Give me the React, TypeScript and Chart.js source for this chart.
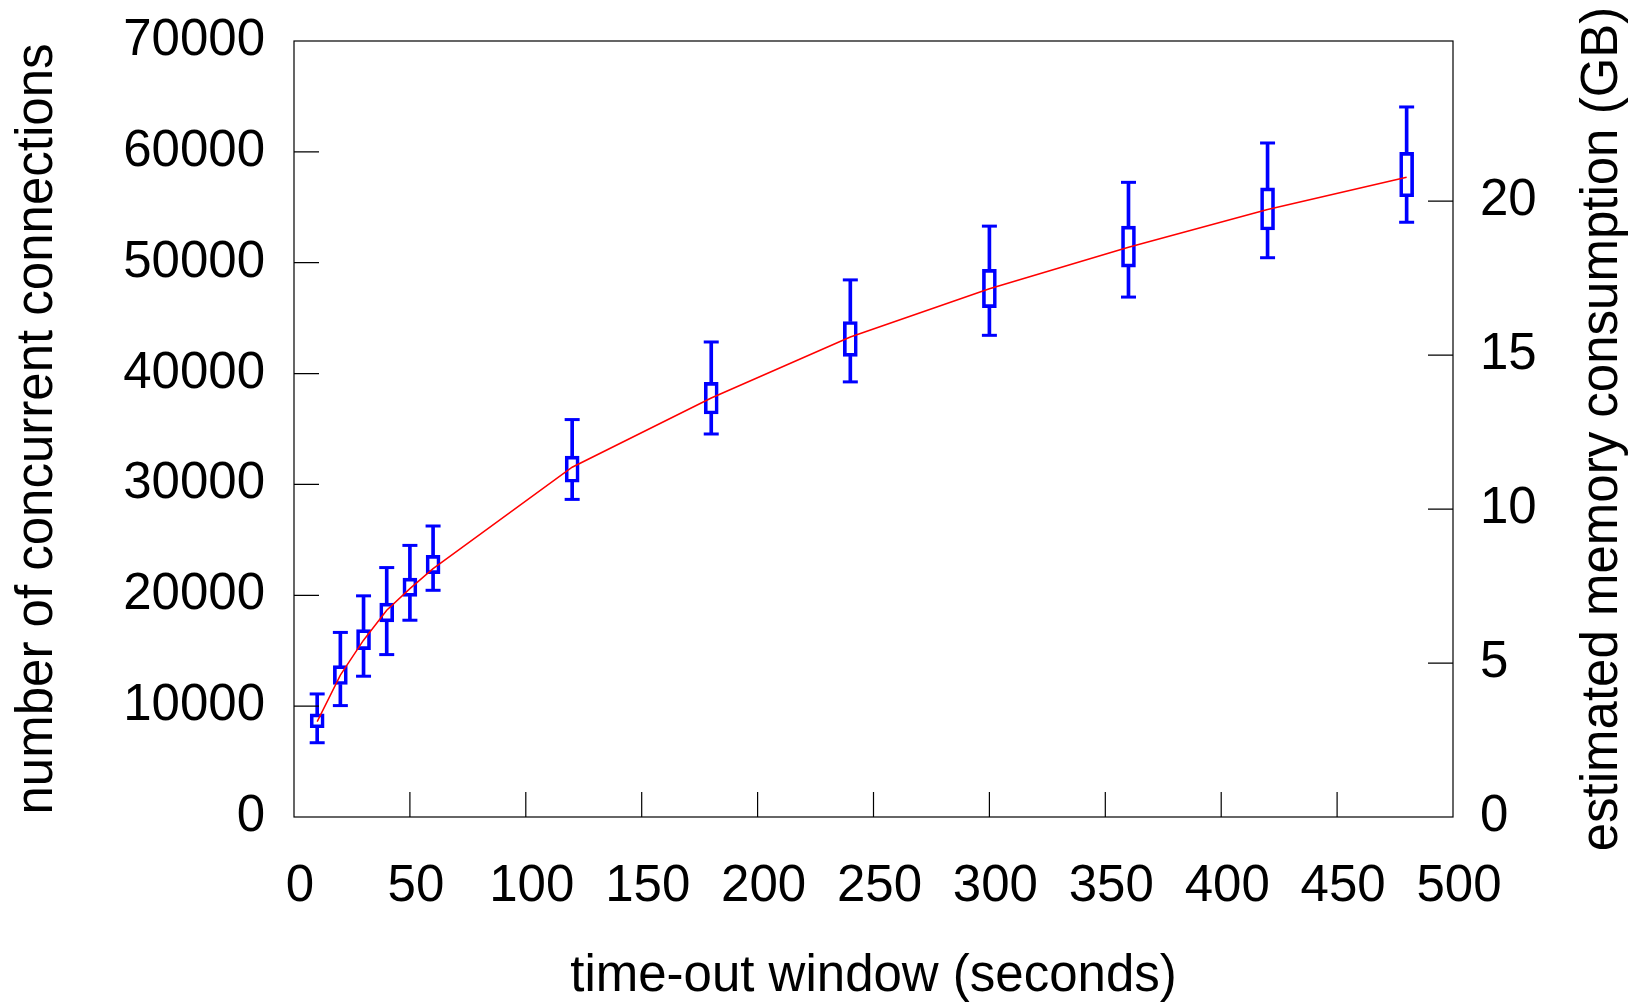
import React, { useEffect, useRef } from 'react';
import { Chart, registerables } from 'chart.js';

Chart.register(...registerables);

// time-out window (seconds)
const timeouts = [10, 20, 30, 40, 50, 60, 120, 180, 240, 300, 360, 420, 480];
// box-plot statistics (number of concurrent connections)
const whiskerHigh = [11100, 16650, 19950, 22500, 24500, 26250, 35850, 42850, 48450, 53300, 57250, 60800, 64050];
const boxHigh = [9300, 13650, 16900, 19300, 21550, 23600, 32550, 39200, 44700, 49400, 53300, 56750, 59950];
const boxLow = [8050, 11950, 15100, 17600, 19900, 21950, 30200, 36350, 41550, 45950, 49600, 52950, 55950];
const whiskerLow = [6700, 10050, 12700, 14650, 17750, 20450, 28650, 34550, 39250, 43450, 46900, 50450, 53650];
// fitted model (red line)
const fitted = [8600, 12800, 15950, 18650, 20600, 22400, 31550, 37800, 43300, 47650, 51400, 54800, 57700];

const xTicks = [0, 50, 100, 150, 200, 250, 300, 350, 400, 450, 500];
const yTicks = [0, 10000, 20000, 30000, 40000, 50000, 60000, 70000];
const y2Ticks = [0, 5, 10, 15, 20];
const y2Max = 25.2;

const xTitle = 'time-out window (seconds)';
const yTitle = 'number of concurrent connections';
const y2Title = 'estimated memory consumption (GB)';

const FONT = '"Liberation Sans", Arial, Helvetica, sans-serif';
const BLUE = '#0000ff';
const RED = '#ff0000';

export default function App() {
  const ref = useRef<HTMLCanvasElement>(null);

  useEffect(() => {
    const canvas = ref.current;
    if (!canvas) return;

    const framePlugin = {
      id: 'framePlugin',
      afterDraw(chart: any) {
        const { ctx, chartArea, scales } = chart;
        const { left, right, top, bottom } = chartArea;
        const TL = 25;
        ctx.save();
        ctx.strokeStyle = '#000';
        ctx.lineWidth = 1.2;
        ctx.strokeRect(left, top, right - left, bottom - top);
        ctx.beginPath();
        for (const t of scales.x.ticks) {
          if (t.value <= 0 || t.value >= 500) continue;
          const px = scales.x.getPixelForValue(t.value);
          ctx.moveTo(px, bottom);
          ctx.lineTo(px, bottom - TL);
        }
        for (const t of scales.y.ticks) {
          if (t.value <= 0 || t.value >= 70000) continue;
          const py = scales.y.getPixelForValue(t.value);
          ctx.moveTo(left, py);
          ctx.lineTo(left + TL, py);
        }
        for (const t of scales.y2.ticks) {
          if (t.value <= 0) continue;
          const py = scales.y2.getPixelForValue(t.value);
          ctx.moveTo(right, py);
          ctx.lineTo(right - TL, py);
        }
        ctx.stroke();

        ctx.fillStyle = '#000';
        ctx.font = `51px ${FONT}`;
        ctx.textAlign = 'center';
        ctx.textBaseline = 'alphabetic';
        const cy = (top + bottom) / 2;
        const cx = (left + right) / 2;
        ctx.fillText(xTitle, cx, 991);
        ctx.save();
        ctx.translate(52, cy);
        ctx.rotate(-Math.PI / 2);
        ctx.fillText(yTitle, 0, 0);
        ctx.restore();
        ctx.save();
        ctx.translate(1617, cy);
        ctx.rotate(-Math.PI / 2);
        ctx.fillText(y2Title, 0, 0);
        ctx.restore();
        ctx.restore();
      },
    };

    const tickFont = { size: 51, family: FONT, lineHeight: 1 };
    const noGrid = { display: false, drawTicks: false, tickLength: 0, offset: false };

    const chart = new Chart(canvas, {
      type: 'bar',
      data: {
        datasets: [
          {
            type: 'line',
            label: 'fit',
            data: timeouts.map((x, i) => ({ x, y: fitted[i] })),
            borderColor: RED,
            borderWidth: 1.5,
            pointRadius: 0,
            tension: 0,
            fill: false,
            order: 0,
            xAxisID: 'x',
            yAxisID: 'y',
          } as any,
          {
            type: 'scatter',
            label: 'caps',
            data: [
              ...timeouts.map((x, i) => ({ x, y: whiskerHigh[i] })),
              ...timeouts.map((x, i) => ({ x, y: whiskerLow[i] })),
            ],
            pointStyle: 'line',
            pointRadius: 7.5,
            pointBorderWidth: 3,
            pointBorderColor: BLUE,
            pointBackgroundColor: BLUE,
            order: 1,
            xAxisID: 'x',
            yAxisID: 'y',
          } as any,
          {
            type: 'bar',
            label: 'box',
            data: timeouts.map((x, i) => ({ x, y: [boxLow[i], boxHigh[i]] })),
            barThickness: 14,
            borderWidth: 3,
            borderColor: BLUE,
            backgroundColor: 'rgba(255,255,255,0)',
            borderSkipped: false,
            grouped: false,
            order: 2,
            xAxisID: 'x',
            yAxisID: 'y',
          } as any,
          {
            type: 'bar',
            label: 'lower whisker',
            data: timeouts.map((x, i) => ({ x, y: [whiskerLow[i], boxLow[i]] })),
            barThickness: 3,
            borderWidth: 0,
            backgroundColor: BLUE,
            grouped: false,
            order: 3,
            xAxisID: 'x',
            yAxisID: 'y',
          } as any,
          {
            type: 'bar',
            label: 'upper whisker',
            data: timeouts.map((x, i) => ({ x, y: [boxHigh[i], whiskerHigh[i]] })),
            barThickness: 3,
            borderWidth: 0,
            backgroundColor: BLUE,
            grouped: false,
            order: 3,
            xAxisID: 'x',
            yAxisID: 'y',
          } as any,
        ],
      },
      options: {
        responsive: false,
        animation: false,
        events: [],
        layout: { autoPadding: false, padding: { left: 0, right: 0, top: 41, bottom: 0 } },
        plugins: { legend: { display: false }, tooltip: { enabled: false } },
        scales: {
          x: {
            type: 'linear',
            position: 'bottom',
            min: 0,
            max: 500,
            offset: false,
            grid: noGrid,
            border: { display: false },
            afterBuildTicks: (s: any) => {
              s.ticks = xTicks.map((v) => ({ value: v }));
            },
            afterFit: (s: any) => {
              s.height = 187;
              s.paddingLeft = 0;
              s.paddingRight = 0;
              s.paddingTop = 0;
              s.paddingBottom = 0;
            },
            ticks: {
              font: tickFont,
              color: '#000',
              padding: 44.5,
              labelOffset: 6,
              maxRotation: 0,
              autoSkip: false,
              callback: (v: any) => String(v),
            },
          },
          y: {
            type: 'linear',
            position: 'left',
            min: 0,
            max: 70000,
            grid: noGrid,
            border: { display: false },
            afterBuildTicks: (s: any) => {
              s.ticks = yTicks.map((v) => ({ value: v }));
            },
            afterFit: (s: any) => {
              s.width = 294;
              s.paddingLeft = 0;
              s.paddingRight = 0;
              s.paddingTop = 0;
              s.paddingBottom = 0;
            },
            ticks: {
              font: tickFont,
              color: '#000',
              padding: 29,
              autoSkip: false,
              callback: (v: any) => String(v),
            },
          },
          y2: {
            type: 'linear',
            position: 'right',
            min: 0,
            max: y2Max,
            grid: noGrid,
            border: { display: false },
            afterBuildTicks: (s: any) => {
              s.ticks = y2Ticks.map((v) => ({ value: v }));
            },
            afterFit: (s: any) => {
              s.width = 181;
              s.paddingLeft = 0;
              s.paddingRight = 0;
              s.paddingTop = 0;
              s.paddingBottom = 0;
            },
            ticks: {
              font: tickFont,
              color: '#000',
              padding: 27,
              autoSkip: false,
              callback: (v: any) => String(v),
            },
          },
        },
      } as any,
      plugins: [framePlugin],
    });

    return () => {
      chart.destroy();
    };
  }, []);

  return (
    <canvas
      ref={ref}
      width={1634}
      height={1004}
      style={{ position: 'fixed', left: 0, top: 0, width: 1634, height: 1004, background: '#fff' }}
    />
  );
}
